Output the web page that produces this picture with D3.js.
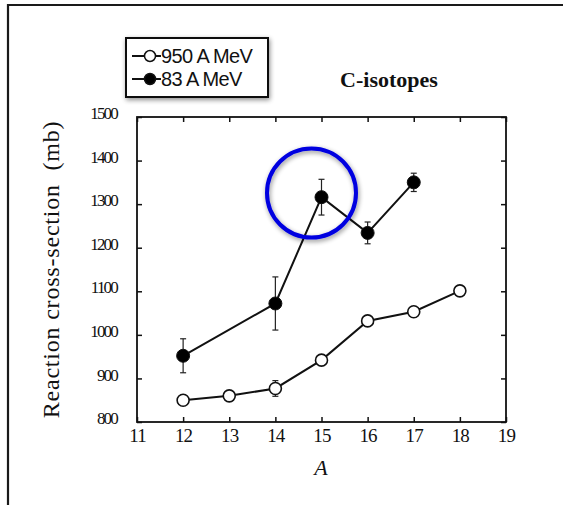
<!DOCTYPE html>
<html>
<head>
<meta charset="utf-8">
<script src="https://cdn.jsdelivr.net/npm/d3@7"></script>
<style>
  body { margin: 0; background: #fff; }
  svg { display: block; }
</style>
</head>
<body>
<div id="chart"></div>
<script>
// data
const massHigh = [12, 13, 14, 15, 16, 17, 18]
const sigmaHigh = [850, 860, 877, 942, 1032, 1053, 1101]
const errHigh = [0, 0, 18, 0, 0, 0, 0]

const massLow = [12, 14, 15, 16, 17]
const sigmaLow = [952, 1072, 1316, 1234, 1350]
const errLow = [39, 61, 41, 25, 21]

const xTicks = [11, 12, 13, 14, 15, 16, 17, 18, 19]
const yTicks = [800, 900, 1000, 1100, 1200, 1300, 1400, 1500]
const legendLabels = ['950 A MeV', '83 A MeV']

const width = 563, height = 505
const plot = {left: 137, right: 506, top: 117, bottom: 422}

const svg = d3.select('#chart').append('svg')
    .attr('width', width)
    .attr('height', height)

const defs = svg.append('defs')
const shadow = defs.append('filter').attr('id', 'soft').attr('x', '-30%').attr('y', '-30%')
    .attr('width', '160%').attr('height', '160%')
shadow.append('feGaussianBlur').attr('in', 'SourceAlpha').attr('stdDeviation', 2.5).attr('result', 'b')
shadow.append('feOffset').attr('in', 'b').attr('dx', 1).attr('dy', 2).attr('result', 'o')
shadow.append('feComponentTransfer').attr('in', 'o').attr('result', 's')
    .append('feFuncA').attr('type', 'linear').attr('slope', 0.45)
const merge = shadow.append('feMerge')
merge.append('feMergeNode').attr('in', 's')
merge.append('feMergeNode').attr('in', 'SourceGraphic')

// outer frame (top + left only)
svg.append('path')
    .attr('d', `M8,${height} L8,5 L${width},5`)
    .attr('fill', 'none')
    .attr('stroke', '#1a1a1a')
    .attr('stroke-width', 2.2)

const x = d3.scaleLinear().domain([11, 19]).range([plot.left, plot.right])
const y = d3.scaleLinear().domain([800, 1500]).range([plot.bottom, plot.top])

//axes, ticks point inward
const serif = '"Liberation Serif", "Times New Roman", serif'

const gx = svg.append('g')
    .attr('transform', `translate(0,${plot.bottom})`)
    .call(d3.axisBottom(x).tickValues(xTicks).tickSize(-5).tickSizeOuter(0).tickPadding(6))
gx.selectAll('text')
    .attr('font-family', serif).attr('font-size', 19).attr('letter-spacing', '-0.8px')
    .attr('fill', '#111').attr('dy', '0.75em')

const gy = svg.append('g')
    .attr('transform', `translate(${plot.left},0)`)
    .call(d3.axisLeft(y).tickValues(yTicks).tickFormat(d3.format('d'))
        .tickSize(-5).tickSizeOuter(0).tickPadding(20))
gy.selectAll('text')
    .attr('font-family', serif).attr('font-size', 17).attr('letter-spacing', '-1.8px')
    .attr('fill', '#111').attr('dy', '0.1em')

const gTop = svg.append('g')
    .attr('transform', `translate(0,${plot.top})`)
    .call(d3.axisTop(x).tickValues(xTicks).tickSize(-5).tickSizeOuter(0).tickFormat(''))
const gRight = svg.append('g')
    .attr('transform', `translate(${plot.right},0)`)
    .call(d3.axisRight(y).tickValues(yTicks).tickSize(-5).tickSizeOuter(0).tickFormat(''))

for (const g of [gx, gy, gTop, gRight]) {
    g.select('.domain').remove()
    g.selectAll('line').attr('stroke', '#111').attr('stroke-width', 1.5)
}

svg.append('rect')
    .attr('x', plot.left).attr('y', plot.top)
    .attr('width', plot.right - plot.left).attr('height', plot.bottom - plot.top)
    .attr('fill', 'none').attr('stroke', '#111').attr('stroke-width', 1.8)

// axis titles
svg.append('text')
    .attr('transform', `translate(59,${(plot.top + plot.bottom) / 2}) rotate(-90)`)
    .attr('text-anchor', 'middle')
    .attr('font-family', serif).attr('font-size', 24).attr('letter-spacing', '0.8px')
    .attr('fill', '#111')
    .text('Reaction cross-section\u00a0\u00a0(mb)')

svg.append('text')
    .attr('x', 321).attr('y', 475)
    .attr('text-anchor', 'middle')
    .attr('font-family', serif).attr('font-size', 22).attr('font-style', 'italic')
    .attr('fill', '#111')
    .text('A')

svg.append('text')
    .attr('x', 389).attr('y', 87)
    .attr('text-anchor', 'middle')
    .attr('font-family', serif).attr('font-size', 22).attr('font-weight', 'bold')
    .attr('fill', '#111')
    .text('C-isotopes')

// series
const high = massHigh.map((m, i) => ({a: m, v: sigmaHigh[i], e: errHigh[i]}))
const low = massLow.map((m, i) => ({a: m, v: sigmaLow[i], e: errLow[i]}))

const line = d3.line().x(d => x(d.a)).y(d => y(d.v))

function drawSeries(data, filled) {
    const g = svg.append('g')
    g.append('path')
        .datum(data)
        .attr('d', line)
        .attr('fill', 'none')
        .attr('stroke', '#111')
        .attr('stroke-width', 2)

    const eb = g.selectAll('.err').data(data.filter(d => d.e > 0)).enter().append('g')
    eb.append('line')
        .attr('x1', d => x(d.a)).attr('x2', d => x(d.a))
        .attr('y1', d => y(d.v + d.e)).attr('y2', d => y(d.v - d.e))
        .attr('stroke', '#222').attr('stroke-width', 1.2)
    for (const s of [1, -1]) {
        eb.append('line')
            .attr('x1', d => x(d.a) - 3).attr('x2', d => x(d.a) + 3)
            .attr('y1', d => y(d.v + s * d.e)).attr('y2', d => y(d.v + s * d.e))
            .attr('stroke', '#222').attr('stroke-width', 1.2)
    }

    g.selectAll('circle').data(data).enter().append('circle')
        .attr('cx', d => x(d.a))
        .attr('cy', d => y(d.v))
        .attr('r', filled ? 6.5 : 6)
        .attr('fill', filled ? '#000' : '#fff')
        .attr('stroke', '#111')
        .attr('stroke-width', filled ? 1 : 1.6)
}

drawSeries(high, false)
drawSeries(low, true)

// legend
const leg = svg.append('g')
leg.append('rect')
    .attr('x', 126).attr('y', 38).attr('width', 142).attr('height', 59)
    .attr('fill', '#fff').attr('stroke', '#111').attr('stroke-width', 2)
    .attr('filter', 'url(#soft)')

const legRows = leg.selectAll('.row').data(legendLabels).enter().append('g')
    .attr('transform', (d, i) => `translate(0,${56 + i * 23})`)
legRows.append('line')
    .attr('x1', 132).attr('x2', 161).attr('y1', 0).attr('y2', 0)
    .attr('stroke', '#111').attr('stroke-width', 2)
legRows.append('circle')
    .attr('cx', 150).attr('cy', 0).attr('r', 5.5)
    .attr('fill', (d, i) => i === 0 ? '#fff' : '#000')
    .attr('stroke', '#111').attr('stroke-width', 1.5)
legRows.append('text')
    .attr('x', 161).attr('y', 0).attr('dy', '0.36em')
    .attr('font-family', '"Liberation Sans", Arial, sans-serif').attr('font-size', 20)
    .attr('letter-spacing', '-0.6px')
    .attr('fill', '#111')
    .text(d => d)

// highlight circle
svg.append('circle')
    .attr('cx', 311.5).attr('cy', 193).attr('r', 44.5)
    .attr('fill', 'none')
    .attr('stroke', '#0000e0')
    .attr('stroke-width', 4)
    .attr('filter', 'url(#soft)')
</script>
</body>
</html>
